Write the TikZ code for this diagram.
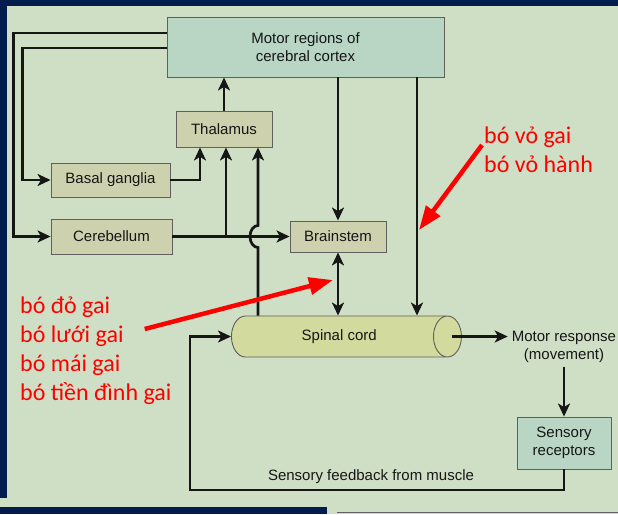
\documentclass[tikz,border=0pt]{standalone}
\usepackage{fontspec}
\setmainfont{Liberation Sans}
\newfontfamily\notefont{Carlito}
\usetikzlibrary{arrows.meta,shapes.geometric,positioning,calc}
\definecolor{navy}{RGB}{2,29,77}
\definecolor{panel}{RGB}{207,223,197}
\definecolor{tanbox}{RGB}{205,209,173}
\definecolor{tealbox}{RGB}{185,214,196}
\definecolor{cordfill}{RGB}{211,218,157}
\definecolor{edge}{RGB}{95,95,95}
\definecolor{ink}{RGB}{22,22,22}

\begin{document}
\begin{tikzpicture}[x=1pt, y=-1pt,
    font=\fontsize{15}{17.5}\selectfont,
    >={Stealth[length=13pt,width=12pt,inset=3.5pt]},
    region/.style={draw=edge, line width=0.9pt, fill=tanbox, inner sep=0pt,
                   align=center, text=ink},
    cortexbox/.style={region, fill=tealbox},
    arr/.style={->, line width=2.7pt, draw=ink},
    redarr/.style={-{Triangle[length=24pt,width=17pt]}, line width=4.5pt, red},
    note/.style={anchor=base west, inner sep=0pt, text=red,
                 font=\notefont\fontsize{24}{29}\selectfont}
]
\useasboundingbox (0,0) rectangle (618,514);
\fill[navy] (0,0) rectangle (618,514);
\fill[panel] (7,6) rectangle (618,507);
\fill[panel] (0,498) rectangle (618,507);
\fill[panel] (327,507) rectangle (618,514);
\draw[edge, line width=1pt] (337,512) -- (618,512);

\node[cortexbox, minimum width=277pt, minimum height=60pt] (cortex) at (305.5,47) {Motor regions of\\cerebral cortex};
\node[region, minimum width=96pt, minimum height=36pt] (thalamus) at (224,129) {Thalamus};
\node[region, minimum width=119pt, minimum height=34pt] (basal) at (110.5,180) {Basal ganglia};
\node[region, minimum width=121pt, minimum height=35pt] (cerebellum) at (111.5,236.5) {Cerebellum};
\node[region, minimum width=96pt, minimum height=31pt] (brainstem) at (338,236.5) {Brainstem};
\node[region, shape=cylinder, fill=cordfill, aspect=2, minimum width=41pt,
      minimum height=230pt, anchor=west] (spinal) at (231,336.5) {Spinal cord};
\node[text=ink, align=center, inner sep=4pt] (response) at (564,347) {Motor response\\(movement)};
\node[cortexbox, minimum width=94pt, minimum height=52pt] (receptors) at (564,443) {Sensory\\receptors};
\node[text=ink, inner sep=0pt] (feedback) at (371,477) {Sensory feedback from muscle};

\coordinate (colA) at (226,0);
\coordinate (colB) at (258,0);
\coordinate (colC) at (417,0);
\coordinate (fbcorner) at (190,490);

\draw[arr] (thalamus.north) -- (thalamus.north |- cortex.south);
\draw[arr] (cortex.south -| brainstem.north) -- (brainstem.north);
\draw[arr] (cortex.south -| colC) -- (spinal.north -| colC);
\draw[arr, <->] (brainstem.south) -- (brainstem.south |- spinal.north);
\draw[arr] ([yshift=14pt]cortex.west) -- ++(-153,0) |- (cerebellum.west);
\draw[arr] ([yshift=-1pt]cortex.west) -- ++(-144,0) |- (basal.west);
\draw[arr] (basal.east) -| ([xshift=-24pt]thalamus.south);
\draw[arr] (cerebellum.east) -- (brainstem.west);
\draw[arr] (cerebellum.east -| colA) -- (thalamus.south -| colA);
\draw[arr] (spinal.north -| colB) -- ($(cerebellum.east -| colB)+(0,11)$)
    arc[start angle=90, end angle=270, x radius=8, y radius=11] -- (thalamus.south -| colB);
\draw[arr] ([xshift=-10pt]spinal.east) -- (spinal.east -| response.west);
\draw[arr] (response.south) -- (receptors.north);
\draw[arr] (receptors.south) |- (fbcorner) |- (spinal.west);

\node[note] (r1) at (484,143) {bó vỏ gai};
\node[note] (r2) at (484,172) {bó vỏ hành};
\node[note] (l1) at (20,313) {bó đỏ gai};
\node[note] (l2) at (20,342) {bó lưới gai};
\node[note] (l3) at (20,371) {bó mái gai};
\node[note] (l4) at (20,400) {bó tiền đình gai};
\coordinate (tipA) at (419,230);
\coordinate (tipB) at (333,280);
\draw[redarr] ([shift={(-2pt,-2pt)}]r1.base west) -- (tipA);
\draw[redarr] ([shift={(21pt,13pt)}]l2.base east) -- (tipB);
\end{tikzpicture}
\end{document}
